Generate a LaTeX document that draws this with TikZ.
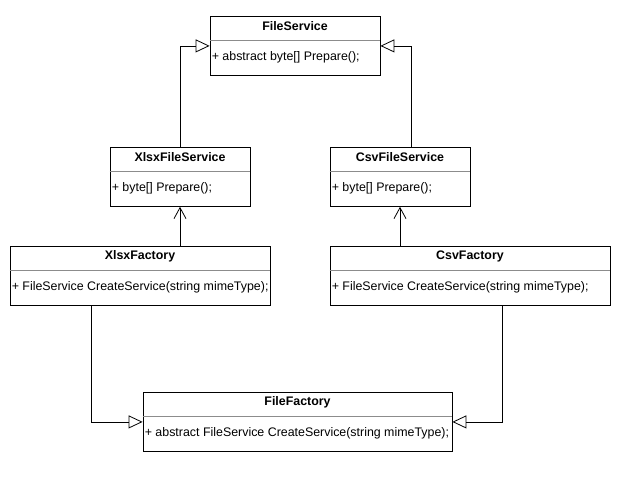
\documentclass[tikz,border=0pt]{standalone}
\usepackage{fontspec}
\setmainfont{Liberation Sans}
\usetikzlibrary{arrows.meta}

\begin{document}
\begin{tikzpicture}[x=1pt, y=-1pt, font=\fontsize{12.4}{14}\selectfont,
    cls/.style={draw, line width=0.8pt, minimum height=59pt, inner sep=0pt},
    inh/.style={line width=0.8pt, -{Triangle[open, length=14pt, width=13pt]}},
    dep/.style={line width=0.8pt, -{Straight Barb[length=11pt, width=12pt]}}]
  \useasboundingbox (0,0) rectangle (620,477);
  \foreach \n/\x/\y/\w/\t/\m in {fs/295/16/170/FileService/{+ abstract byte[] Prepare();},
      xfs/180/147/140/XlsxFileService/{+ byte[] Prepare();},
      cfs/400/147/140/CsvFileService/{+ byte[] Prepare();},
      xf/140/246/260/XlsxFactory/{+ FileService CreateService(string mimeType);},
      cf/470/246/280/CsvFactory/{+ FileService CreateService(string mimeType);},
      ff/297.5/392/309/FileFactory/{+ abstract FileService CreateService(string mimeType);}} {
    \node[cls, minimum width=\w pt, anchor=north] (\n) at (\x,\y) {};
    \node[font=\fontsize{12.4}{14}\selectfont\bfseries] at ([yshift=-10.5pt]\n.north) {\t};
    \draw[black!45, line width=0.6pt] ([yshift=-24pt]\n.north west) -- ([yshift=-24pt]\n.north east);
    \node[anchor=west, inner sep=0pt] at ([xshift=2pt, yshift=-41pt]\n.north west) {\m};
  }
  % generalisation
  \draw[inh] (xfs.north) |- (fs.west);
  \draw[inh] ([xshift=11pt]cfs.north) |- (fs.east);
  \draw[inh] ([xshift=-49pt]xf.south) |- (ff.west);
  \draw[inh] ([xshift=32pt]cf.south) |- (ff.east);
  % factories create services
  \draw[dep] (xfs.south |- xf.north) -- (xfs.south);
  \draw[dep] (cfs.south |- cf.north) -- (cfs.south);
\end{tikzpicture}
\end{document}
